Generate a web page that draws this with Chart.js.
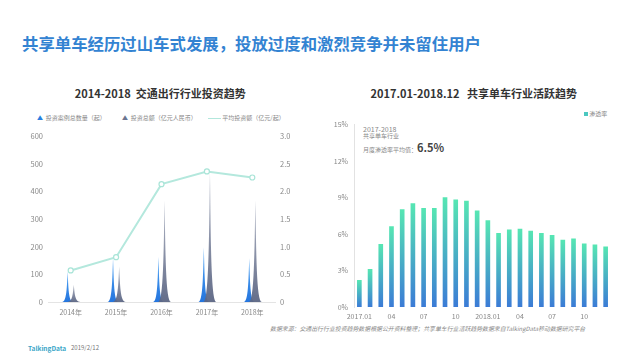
<!DOCTYPE html>
<html><head><meta charset="utf-8">
<script src="https://cdn.jsdelivr.net/npm/chart.js@4"></script>
<style>
body{margin:0;width:640px;height:360px;background:#fff;position:relative;overflow:hidden;font-family:"Noto Sans CJK SC","Noto Sans",sans-serif;}
.abs{position:absolute;white-space:nowrap;}
canvas{position:absolute;}
</style></head><body>
<div class="abs" style="left:22px;top:33px;line-height:20px;font-size:16.4px;font-weight:bold;color:#3383d2;">共享单车经历过山车式发展，投放过度和激烈竞争并未留住用户</div>

<div class="abs" style="left:160.3px;top:86px;line-height:14px;font-size:11px;font-weight:bold;color:#333;transform:translateX(-50%);">2014-2018&nbsp;&nbsp;交通出行行业投资趋势</div>
<div class="abs" style="left:473.8px;top:86px;line-height:14px;font-size:11px;font-weight:bold;color:#333;transform:translateX(-50%);">2017.01-2018.12&nbsp;&nbsp;&nbsp;共享单车行业活跃趋势</div>

<div class="abs" style="left:37px;top:113px;line-height:10px;font-size:6px;color:#888;"><span style="color:#2a7fe0;font-size:6px;">▲</span>&nbsp;&nbsp;投资案例总数量（起）</div>
<div class="abs" style="left:122px;top:113px;line-height:10px;font-size:6px;color:#888;"><span style="color:#6c7590;font-size:6px;">▲</span>&nbsp;&nbsp;投资总额（亿元人民币）</div>
<div class="abs" style="left:208px;top:113px;line-height:10px;font-size:6px;color:#888;"><span style="display:inline-block;width:13px;height:1.5px;background:#b2e7dc;vertical-align:middle;"></span>&nbsp;平均投资额（亿元/起）</div>

<div class="abs" style="left:584px;top:108.5px;line-height:10px;font-size:6px;color:#888;"><span style="display:inline-block;width:4px;height:4px;background:#4cc8c0;vertical-align:middle;"></span>&nbsp;渗透率</div>

<div class="abs" style="left:363px;top:123.5px;line-height:10px;font-size:7px;color:#888;">2017-2018</div>
<div class="abs" style="left:363px;top:131px;line-height:10px;font-size:6px;color:#888;">共享单车行业</div>
<div class="abs" style="left:363px;top:140px;line-height:14px;font-size:6px;color:#888;">月度渗透率平均值：<span style="font-size:11px;font-weight:bold;color:#444;">6.5%</span></div>

<div class="abs" style="left:270px;top:324px;line-height:10px;font-size:5.9px;font-style:italic;color:#888;">数据来源：交通出行行业投资趋势数据根据公开资料整理；共享单车行业活跃趋势数据来自TalkingData移动数据研究平台</div>
<div class="abs" style="left:28px;top:343px;line-height:10px;font-size:6.5px;font-weight:bold;color:#3aa6c8;">TalkingData</div>
<div class="abs" style="left:71px;top:343px;line-height:10px;font-size:6px;color:#777;">2019/2/12</div>

<canvas id="c1" width="300" height="200" style="left:0;top:125px;"></canvas>
<canvas id="c2" width="320" height="217" style="left:320px;top:110px;"></canvas>

<script>
// ---- Data ----
const investYears = ['2014年', '2015年', '2016年', '2017年', '2018年'];
const caseCounts = [110, 160, 164, 198, 158];          // 投资案例总数量（起）
const investAmounts = [62, 128, 368, 470, 368];         // 投资总额（亿元人民币）
const avgInvest = [0.57, 0.81, 2.13, 2.36, 2.25];       // 平均投资额（亿元/起）

const months = ['2017.01','02','03','04','05','06','07','08','09','10','11','12',
                '2018.01','02','03','04','05','06','07','08','09','10','11','12'];
const penetration = [2.2, 3.1, 5.15, 6.6, 8.0, 8.5, 8.1, 8.1, 9.0, 8.8, 8.7, 7.9,
                     7.1, 6.05, 6.35, 6.4, 6.25, 6.05, 5.9, 5.5, 5.6, 5.2, 5.1, 4.95];

Chart.defaults.font.family = '"Noto Sans CJK SC","Noto Sans",sans-serif';
Chart.defaults.color = '#888';

// spike renderer based on bar elements positioned by the library
const spikePlugin = {
  id: 'spikes',
  beforeDatasetsDraw(chart) {
    const ctx = chart.ctx;
    chart.data.datasets.forEach((ds, i) => {
      if (!ds.spike) return;
      const meta = chart.getDatasetMeta(i);
      meta.data.forEach(el => {
        const { x, y, base } = el.getProps(['x', 'y', 'base'], true);
        const w = ds.spike.width, h = base - y;
        const g = ctx.createLinearGradient(0, y, 0, base);
        g.addColorStop(0, ds.spike.top);
        g.addColorStop(1, ds.spike.bottom);
        ctx.save();
        ctx.fillStyle = g;
        ctx.beginPath();
        ctx.moveTo(x + w / 2, base);
        ctx.bezierCurveTo(x + w * 0.08, base, x + w * 0.07, base - h * 0.5, x, y);
        ctx.bezierCurveTo(x - w * 0.07, base - h * 0.5, x - w * 0.08, base, x - w / 2, base);
        ctx.closePath();
        ctx.fill();
        ctx.restore();
      });
    });
  }
};

new Chart(document.getElementById('c1'), {
  data: {
    labels: investYears,
    datasets: [
      { type: 'line', label: '平均投资额（亿元/起）', data: avgInvest, yAxisID: 'y1',
        borderColor: '#b4e8dd', borderWidth: 2, pointRadius: 2.5, pointBorderWidth: 1.2,
        pointBackgroundColor: '#fff', pointBorderColor: '#a8e4d7', tension: 0 },
      { type: 'bar', label: '投资案例总数量（起）', data: caseCounts, yAxisID: 'y',
        backgroundColor: 'rgba(0,0,0,0)', borderWidth: 0,
        categoryPercentage: 0.27, barPercentage: 1,
        spike: { width: 11, top: 'rgba(70,160,245,0.95)', bottom: 'rgba(25,110,220,0.95)' } },
      { type: 'bar', label: '投资总额（亿元人民币）', data: investAmounts, yAxisID: 'y',
        backgroundColor: 'rgba(0,0,0,0)', borderWidth: 0,
        categoryPercentage: 0.27, barPercentage: 1,
        spike: { width: 13, top: 'rgba(170,176,192,0.92)', bottom: 'rgba(92,102,132,0.95)' } }
    ]
  },
  options: {
    responsive: false, animation: false,
    layout: { padding: { top: 11, left: 0, right: 0, bottom: 0 } },
    plugins: { legend: { display: false }, tooltip: { enabled: false } },
    scales: {
      x: {
        grid: { display: false, drawTicks: false },
        border: { display: true, color: '#e4e4e4' },
        ticks: { font: { size: 7 }, color: '#888', padding: 6 },
        afterFit(s) { s.height = 23; }
      },
      y: {
        position: 'left', min: 0, max: 600,
        ticks: { stepSize: 100, font: { size: 7.5 }, color: '#888', padding: 5 },
        grid: { display: false, drawTicks: false }, border: { display: false },
        afterFit(s) { s.width = 48; }
      },
      y1: {
        position: 'right', min: 0, max: 3,
        ticks: { stepSize: 0.5, font: { size: 7.5 }, color: '#888', padding: 5 },
        grid: { display: false, drawTicks: false }, border: { display: false },
        afterFit(s) { s.width = 25; }
      }
    }
  },
  plugins: [spikePlugin]
});

new Chart(document.getElementById('c2'), {
  type: 'bar',
  data: {
    labels: months,
    datasets: [{
      label: '渗透率', data: penetration, barThickness: 4, borderWidth: 0,
      backgroundColor(c) {
        const chart = c.chart;
        if (!chart.chartArea || c.type !== 'data') return '#4cc8c0';
        const yS = chart.scales.y;
        const top = yS.getPixelForValue(c.raw), bot = yS.getPixelForValue(0);
        const g = chart.ctx.createLinearGradient(0, top, 0, bot);
        g.addColorStop(0, '#56e6b3');
        g.addColorStop(1, '#3b7bd6');
        return g;
      }
    }]
  },
  options: {
    responsive: false, animation: false,
    layout: { padding: { top: 14.5, right: 29, left: 0, bottom: 0 } },
    plugins: { legend: { display: false }, tooltip: { enabled: false } },
    scales: {
      x: {
        grid: { display: false, drawTicks: false }, border: { display: false },
        ticks: { autoSkip: false, maxRotation: 0, font: { size: 7 }, color: '#888', padding: 5,
                 callback(v, i) { return i % 3 === 0 ? months[i] : ''; } },
        afterFit(s) { s.height = 20; }
      },
      y: {
        min: 0, max: 15,
        ticks: { stepSize: 3, font: { size: 7 }, color: '#888', padding: 6,
                 callback(v) { return v + '%'; } },
        grid: { display: false, drawTicks: false },
        border: { display: true, color: '#e2e2e2' },
        afterFit(s) { s.width = 34; }
      }
    }
  }
});
</script>
</body></html>
